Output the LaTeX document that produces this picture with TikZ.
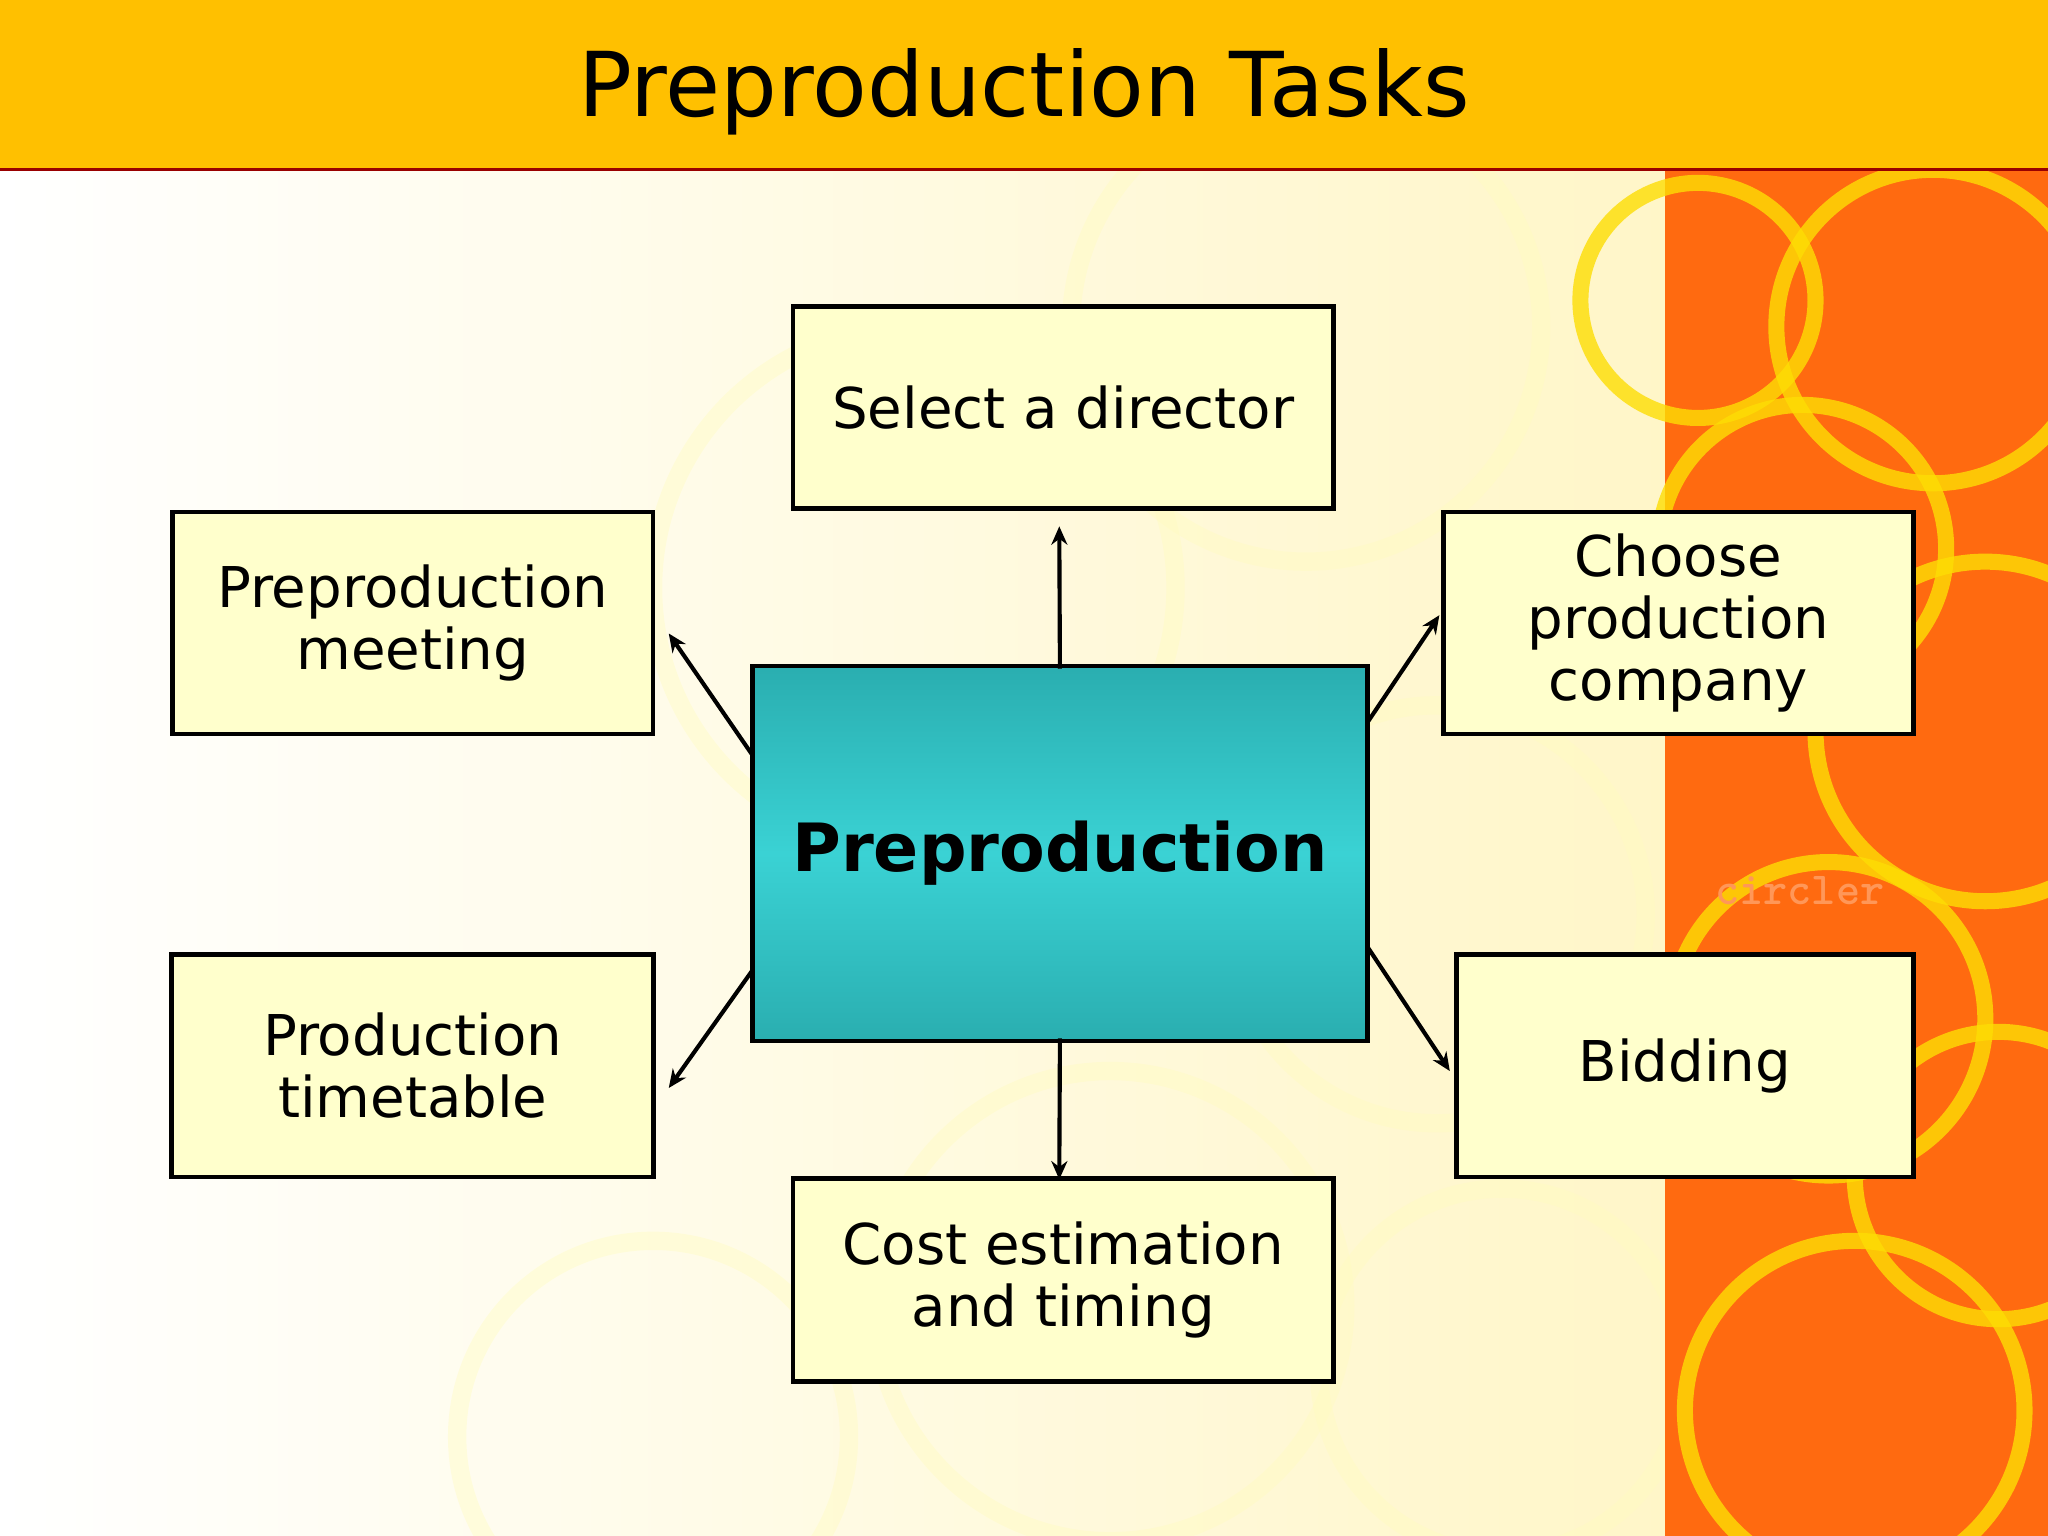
\documentclass[tikz,border=0pt]{standalone}
\usepackage{fontspec}
\setmainfont{DejaVu Sans}
\usetikzlibrary{arrows.meta}
\definecolor{bar}{HTML}{FFC000}
\definecolor{boxfill}{HTML}{FFFFCC}
\definecolor{tealA}{HTML}{2AAEB0}
\definecolor{tealB}{HTML}{3AD2D4}
\definecolor{stripe}{HTML}{FF6A10}
\definecolor{cream}{HTML}{FFF6C8}
\tikzset{
  task/.style={draw=black, line width=2pt, fill=boxfill, align=center, font=\fontsize{24.5}{27}\selectfont, inner sep=0pt},
  link/.style={line width=1.8pt, -{Stealth[length=8pt,width=7pt]}}
}
\begin{document}
\begin{tikzpicture}[x=0.02cm,y=-0.02cm]
\useasboundingbox (0,0) rectangle (1568,1176);
% background
\shade[left color=white, right color=cream] (0,130) rectangle (1275,1176);
\foreach \cx/\cy/\r in {1000/250/180, 700/450/200, 1100/700/160, 850/1000/180, 500/1100/150, 1150/1050/140}
  \draw[yellow!25, line width=8pt, opacity=0.4] (\cx,\cy) circle (\r);
\fill[stripe] (1275,130) rectangle (1568,1176);
\foreach \cx/\cy/\r in {1480/250/120, 1380/420/110, 1520/560/130, 1400/780/120, 1530/900/110, 1420/1080/130, 1300/230/90}
  \draw[yellow!80!orange, line width=7pt, opacity=0.8] (\cx,\cy) circle (\r);
\node[text=stripe!70!white, font=\ttfamily\bfseries\fontsize{20}{20}\selectfont] (wm) at (1378,682) {circler};
% title bar
\fill[bar] (0,0) rectangle (1568,130);
\draw[red!60!black, line width=1.2pt] (0,130) -- (1568,130);
\node[font=\fontsize{39}{41}\selectfont] (title) at (784,70) {Preproduction Tasks};
% boxes
\node[task, minimum width=414*0.02cm, minimum height=155*0.02cm] (dir) at (814,312) {Select a director};
\node[task, minimum width=368*0.02cm, minimum height=170*0.02cm] (meet) at (316,477) {Preproduction\\meeting};
\node[task, minimum width=360*0.02cm, minimum height=170*0.02cm] (choose) at (1285,477) {Choose\\production\\company};
\node[task, minimum width=369*0.02cm, minimum height=170*0.02cm] (time) at (316,816) {Production\\timetable};
\node[task, minimum width=350*0.02cm, minimum height=170*0.02cm] (bid) at (1290,816) {Bidding};
\node[task, minimum width=414*0.02cm, minimum height=155*0.02cm] (cost) at (814,980) {Cost estimation\\and timing};
\shade[top color=tealA, bottom color=tealA, middle color=tealB] (576,510) rectangle (1047,797);
\draw[black, line width=2pt] (576,510) rectangle (1047,797);
\node[font=\bfseries\fontsize{29}{31}\selectfont, minimum width=467*0.02cm, minimum height=283*0.02cm, outer sep=0pt] (pre) at (811.5,653.5) {Preproduction};
% arrow endpoints
\coordinate (a1) at (811,403);
\coordinate (a2) at (512,485);
\coordinate (a3) at (1102,471);
\coordinate (a4) at (512,833);
\coordinate (a5) at (1110,820);
\coordinate (a6) at (811,903);
\coordinate (s2) at (576,578);
\coordinate (s3) at (1047,553);
\coordinate (s4) at (576,743);
\coordinate (s5) at (1047,725);
\draw[link] (pre.north) -- (a1);
\draw[link] (s2) -- (a2);
\draw[link] (s3) -- (a3);
\draw[link] (s4) -- (a4);
\draw[link] (s5) -- (a5);
\draw[link] (pre.south) -- (a6);
\end{tikzpicture}
\end{document}
